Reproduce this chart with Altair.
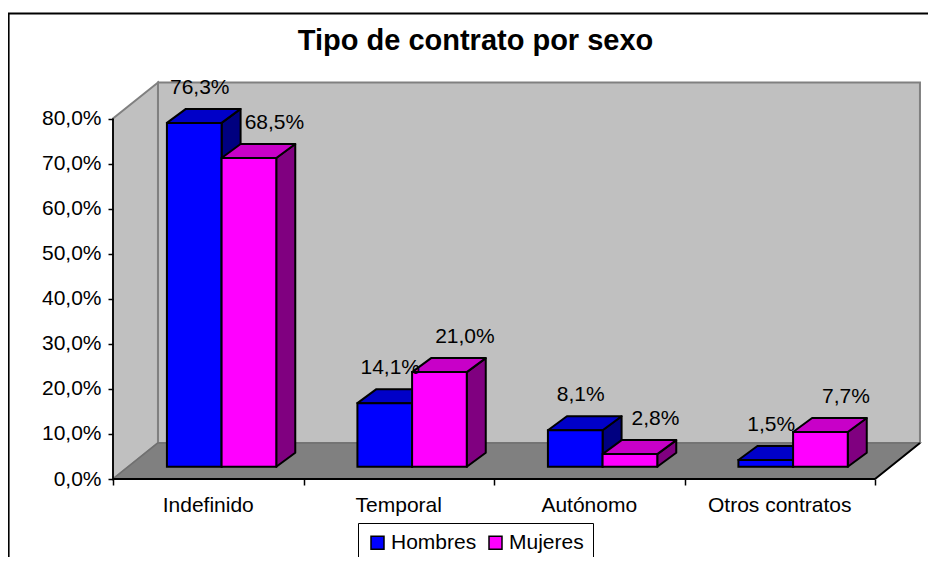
import altair as alt
import pandas as pd

# ---- data ----
categorias = ["Indefinido", "Temporal", "Autónomo", "Otros contratos"]
series = ["Hombres", "Mujeres"]
hombres = [76.3, 14.1, 8.1, 1.5]
mujeres = [68.5, 21.0, 2.8, 7.7]
y_ticks = [0, 10, 20, 30, 40, 50, 60, 70, 80]
titulo = "Tipo de contrato por sexo"

# ---- layout / style constants ----
FONT = "Liberation Sans"
W, H = 920, 544
X_DOM = [-0.5512, 4.2782]      # category units
Y_DOM = [-17.31, 103.42]       # percent units
Y_MAX = 80
N = len(categorias)
WALL_DX, WALL_DY = 0.236, 8.0  # depth of the 3-D box
BAR_DX, BAR_DY = 0.0997, 3.107 # depth of each column
BAR_BASE = 2.73
BAR_START = 0.283
BAR_W = 0.287
TITLE_POS = (1.903, 95.3)
CAT_Y = -5.99

colores = {"Hombres": ("#0000FF", "#0000C8", "#000080"),
           "Mujeres": ("#FF00FF", "#C800C8", "#800080")}
valores = {"Hombres": hombres, "Mujeres": mujeres}

xs = alt.Scale(domain=X_DOM, nice=False, zero=False)
ys = alt.Scale(domain=Y_DOM, nice=False, zero=False)

x_axis = alt.Axis(values=list(range(N + 1)), labels=False, domain=False, grid=False,
                  tickSize=6, tickWidth=1.5, tickColor="black", offset=-(H - 466), zindex=2)
y_axis = alt.Axis(values=y_ticks,
                  labelExpr="replace(format(datum.value, '.1f'), '.', ',') + '%'",
                  domain=False, grid=False, tickSize=5, tickWidth=1.5, tickColor="black",
                  labelPadding=7, labelFont=FONT, labelFontSize=21, labelColor="black",
                  offset=-105, zindex=2)


def X(field, **kw):
    return alt.X(field, scale=xs, axis=x_axis, title=None, **kw)


def Y(field, **kw):
    return alt.Y(field, scale=ys, axis=y_axis, title=None, **kw)


fronts, tops, sides, labels = [], [], [], []
for i, cat in enumerate(categorias):
    for j, s in enumerate(series):
        v = valores[s][i]
        x0 = i + BAR_START + j * BAR_W
        x1 = x0 + BAR_W
        top = BAR_BASE + v
        bid = f"{i}-{j}"
        fc, tc, sc = colores[s]
        fronts.append(dict(serie=s, x0=x0, x1=x1, y0=BAR_BASE, y1=top))
        tops += [dict(id=bid, fill=tc, yy=top, xa=x0, xb=x1),
                 dict(id=bid, fill=tc, yy=top + BAR_DY, xa=x0 + BAR_DX, xb=x1 + BAR_DX)]
        sides += [dict(id=bid, fill=sc, xx=x1, ya=BAR_BASE, yb=top),
                  dict(id=bid, fill=sc, xx=x1 + BAR_DX, ya=BAR_BASE + BAR_DY, yb=top + BAR_DY)]
        labels.append(dict(serie=s, lx=(x0 + x1 + BAR_DX) / 2, ly=top + BAR_DY,
                           txt=f"{v:.1f}".replace(".", ",") + "%"))

fronts = pd.DataFrame(fronts)
tops = pd.DataFrame(tops)
sides = pd.DataFrame(sides)
labels = pd.DataFrame(labels)
cats = pd.DataFrame({"cat": categorias, "cx": [i + 0.5 for i in range(N)], "cy": [CAT_Y] * N})

# back wall
back_wall = alt.Chart(pd.DataFrame([{"x": WALL_DX, "x2": N + WALL_DX,
                                     "y": WALL_DY, "y2": Y_MAX + WALL_DY}])).mark_rect(
    fill="#C0C0C0", stroke="#808080", strokeWidth=2
).encode(x=X("x:Q"), x2="x2:Q", y=Y("y:Q"), y2="y2:Q")

left_wall = alt.Chart(pd.DataFrame([{"x": 0, "y": 0, "y2": Y_MAX},
                                    {"x": WALL_DX, "y": WALL_DY, "y2": Y_MAX + WALL_DY}])).mark_area(
    orient="vertical", fill="#C0C0C0", stroke="#808080", strokeWidth=2
).encode(x=X("x:Q"), y=Y("y:Q", stack=None), y2="y2:Q")

floor = alt.Chart(pd.DataFrame([{"y": 0, "x": 0, "x2": N},
                                {"y": WALL_DY, "x": WALL_DX, "x2": N + WALL_DX}])).mark_area(
    orient="horizontal", fill="#808080", stroke="#707070", strokeWidth=1.5
).encode(y=Y("y:Q"), x=X("x:Q", stack=None), x2="x2:Q")

edges = alt.Chart(pd.DataFrame([
    {"x": 0, "x2": 0, "y": 0, "y2": Y_MAX},
    {"x": 0, "x2": N, "y": 0, "y2": 0},
    {"x": N, "x2": N + WALL_DX, "y": 0, "y2": WALL_DY},
])).mark_rule(color="black", strokeWidth=1.8).encode(
    x=X("x:Q"), x2="x2:Q", y=Y("y:Q"), y2="y2:Q")

side_faces = alt.Chart(sides).mark_area(orient="vertical", stroke="black", strokeWidth=2,
                                        strokeJoin="round").encode(
    x=X("xx:Q"), y=Y("ya:Q", stack=None), y2="yb:Q",
    detail="id:N", fill=alt.Fill("fill:N", scale=None),
)

top_faces = alt.Chart(tops).mark_area(orient="horizontal", stroke="black", strokeWidth=2,
                                      strokeJoin="round").encode(
    y=Y("yy:Q"), x=X("xa:Q", stack=None), x2="xb:Q",
    detail="id:N", fill=alt.Fill("fill:N", scale=None),
)

front_faces = alt.Chart(fronts).mark_rect(stroke="black", strokeWidth=2).encode(
    x=X("x0:Q"), x2="x1:Q", y=Y("y0:Q"), y2="y1:Q",
    color=alt.Color("serie:N",
                    scale=alt.Scale(domain=series, range=[colores[s][0] for s in series]),
                    legend=alt.Legend(orient="none", legendX=350, legendY=510,
                                      direction="horizontal", title=None,
                                      symbolType="square", symbolSize=169,
                                      symbolStrokeColor="black", symbolStrokeWidth=1.5,
                                      labelFont=FONT, labelFontSize=21, labelColor="black",
                                      labelOffset=3, columnPadding=8, padding=9,
                                      strokeColor="black", fillColor="white")),
)

lab_h = alt.Chart(labels).transform_filter(alt.datum.serie == "Hombres").mark_text(
    font=FONT, fontSize=21, color="black", baseline="middle", dx=-4, dy=-21
).encode(x=X("lx:Q"), y=Y("ly:Q"), text="txt:N")

lab_m = alt.Chart(labels).transform_filter(alt.datum.serie == "Mujeres").mark_text(
    font=FONT, fontSize=21, color="black", baseline="middle", dx=16, dy=-21
).encode(x=X("lx:Q"), y=Y("ly:Q"), text="txt:N")

cat_text = alt.Chart(cats).mark_text(font=FONT, fontSize=21, color="black", baseline="middle").encode(
    x=X("cx:Q"), y=Y("cy:Q"), text="cat:N"
)

title_text = alt.Chart(pd.DataFrame({"t": [titulo], "tx": [TITLE_POS[0]], "ty": [TITLE_POS[1]]})).mark_text(
    font=FONT, fontSize=29, fontWeight="bold", color="black", baseline="alphabetic", align="center"
).encode(x=X("tx:Q"), y=Y("ty:Q"), text="t:N")

border_left = alt.Chart(pd.DataFrame({"k": [0]})).mark_rule(color="black", strokeWidth=2.2).encode(
    x=alt.value(0.5), y=alt.value(0), y2=alt.value(H))
border_top = alt.Chart(pd.DataFrame({"k": [0]})).mark_rule(color="black", strokeWidth=2.2).encode(
    x=alt.value(0), x2=alt.value(W), y=alt.value(0.5))

chart = alt.layer(
    back_wall, left_wall, floor, edges, side_faces, top_faces, front_faces,
    lab_h, lab_m, cat_text, title_text, border_left, border_top,
).properties(
    width=W, height=H,
    autosize="none",
    padding={"left": 0, "top": 5, "right": 0, "bottom": 0},
).configure_view(strokeWidth=0)

chart.save("out.html", embed_options={"renderer": "svg", "actions": False})
